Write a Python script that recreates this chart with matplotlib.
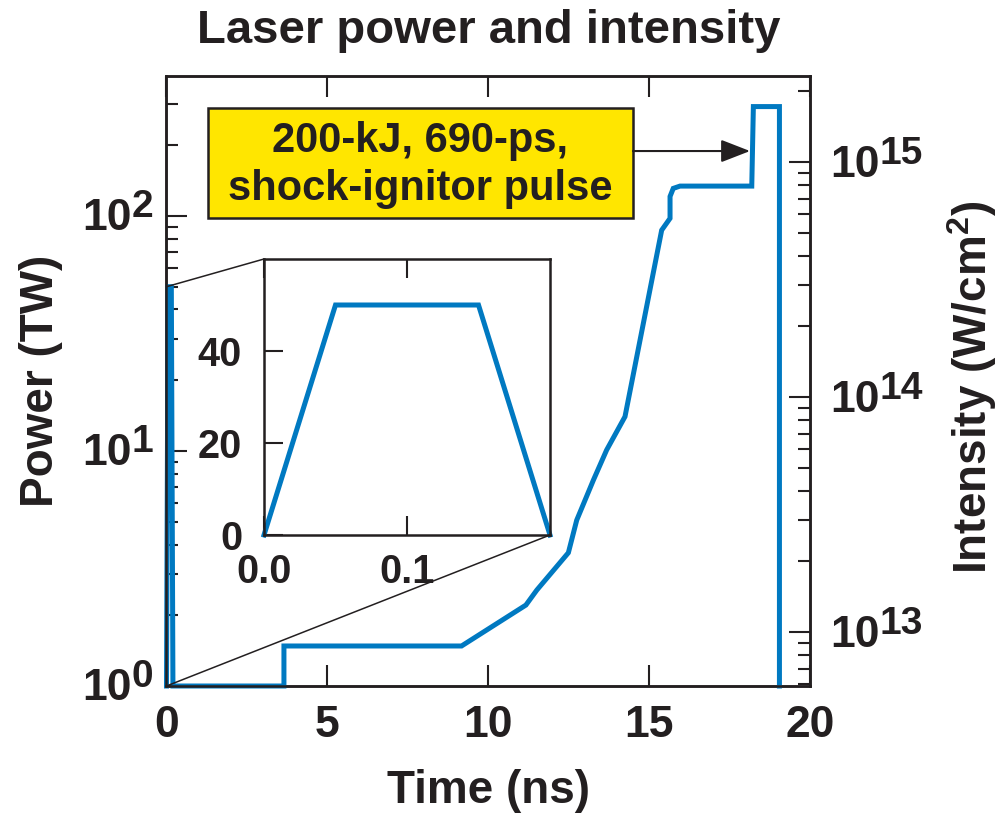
import numpy as np
import matplotlib.pyplot as plt
from matplotlib.patches import Rectangle, ConnectionPatch
from matplotlib.ticker import FixedLocator, NullFormatter, NullLocator, LogLocator

plt.rcParams['font.family'] = ['Liberation Sans', 'DejaVu Sans']
plt.rcParams['font.weight'] = 'bold'
plt.rcParams['axes.titleweight'] = 'bold'
plt.rcParams['axes.labelweight'] = 'bold'
plt.rcParams['mathtext.fontset'] = 'custom'
plt.rcParams['mathtext.rm'] = 'Liberation Sans:bold'
plt.rcParams['mathtext.default'] = 'rm'

INK = '#231f20'
BLUE = '#0079c1'
YELLOW = '#ffe600'

# pulse shape: time (ns), power (TW)
time_ns = [0.0, 0.05, 0.15, 0.2, 3.65, 3.65, 9.17, 11.17, 11.51, 12.49, 12.75,
           13.27, 13.68, 14.25, 15.39, 15.65, 15.65, 15.75, 15.96, 18.19, 18.24,
           19.05, 19.05]
power_tw = [1.0, 50, 50, 1.0, 1.0, 1.48, 1.48, 2.21, 2.56, 3.69, 5.08,
            7.53, 10.1, 14.0, 87, 97.7, 121, 131, 134, 134, 292,
            292, 1.0]

# picket (inset)
picket_ns = [0.0, 0.05, 0.15, 0.2]
picket_tw = [0, 50, 50, 0]

time_ticks = [0, 5, 10, 15, 20]
power_ticks = [1, 10, 100]
intensity_ticks = [1e13, 1e14, 1e15]
inset_xticks = [0.0, 0.1]
inset_yticks = [0, 20, 40]

w_cm2_per_tw = 5.9e12      # intensity scale of the right axis
power_lim = (1.0, 394.0)

fig = plt.figure(figsize=(10.05, 8.16), dpi=100)
ax = fig.add_axes([0.16567, 0.15931, 0.6403, 0.74755])

ax.plot(time_ns, power_tw, color=BLUE, lw=3.6, solid_joinstyle='miter',
        clip_on=False, zorder=5)
ax.set_yscale('log')
ax.set_xlim(0, 20)
ax.set_ylim(*power_lim)

ax.xaxis.set_major_locator(FixedLocator(time_ticks))
ax.xaxis.set_minor_locator(NullLocator())
ax.yaxis.set_major_locator(FixedLocator(power_ticks))
ax.yaxis.set_minor_locator(LogLocator(base=10, subs=np.arange(2, 10)))
ax.yaxis.set_major_formatter(NullFormatter())
ax.yaxis.set_minor_formatter(NullFormatter())
ax.tick_params(which='both', direction='in', top=True, right=False,
               width=1.5, color=INK, labelcolor=INK)
ax.tick_params(which='major', length=15)
ax.tick_params(which='minor', length=8.6)
ax.tick_params(axis='x', labelsize=32, pad=14)
for s in ax.spines.values():
    s.set_linewidth(1.8)
    s.set_color(INK)

ax2 = ax.twinx()
ax2.set_yscale('log')
ax2.set_ylim(power_lim[0] * w_cm2_per_tw, power_lim[1] * w_cm2_per_tw)
ax2.yaxis.set_major_locator(FixedLocator(intensity_ticks))
ax2.yaxis.set_minor_locator(LogLocator(base=10, subs=np.arange(2, 10)))
ax2.yaxis.set_major_formatter(NullFormatter())
ax2.yaxis.set_minor_formatter(NullFormatter())
ax2.tick_params(which='both', direction='in', width=1.5, color=INK)
ax2.tick_params(which='major', length=15)
ax2.tick_params(which='minor', length=8.6)
for s in ax2.spines.values():
    s.set_linewidth(1.8)
    s.set_color(INK)


def exp_label(a, val, side):
    e = str(int(round(np.log10(val))))
    tr = a.get_yaxis_transform()
    kw = dict(textcoords='offset pixels', va='baseline', color=INK,
              annotation_clip=False)
    if side == 'left':
        a.annotate('10', (0, val), xycoords=tr, xytext=(-35, -14),
                   ha='right', fontsize=32, **kw)
        a.annotate(e, (0, val), xycoords=tr, xytext=(-13, -1),
                   ha='right', fontsize=28, **kw)
    else:
        a.annotate('10', (1, val), xycoords=tr, xytext=(20, -15),
                   ha='left', fontsize=32, **kw)
        a.annotate(e, (1, val), xycoords=tr, xytext=(70, -2),
                   ha='left', fontsize=28, **kw)


for v in power_ticks:
    exp_label(ax, v, 'left')
for v in intensity_ticks:
    exp_label(ax2, v, 'right')

ax.set_title('Laser power and intensity', fontsize=34, pad=23.8, color=INK)
ax.set_xlabel('Time (ns)', fontsize=33, va='baseline', color=INK)
ax.xaxis.set_label_coords(0.5, -0.1918)
ax.set_ylabel('Power (TW)', fontsize=33, va='center', color=INK)
ax.yaxis.set_label_coords(-0.195, 0.5)
ax2.set_ylabel('Intensity (W/cm$^2$)', fontsize=33, va='center', color=INK)
ax2.yaxis.set_label_coords(1.2518, 0.49)

# callout box
ax2.add_patch(Rectangle((0.0645, 0.7664), 0.6605, 0.1811, transform=ax.transAxes,
                        facecolor=YELLOW, edgecolor=INK, lw=1.8, zorder=6))
ax2.text(0.3947, 0.8754, '200-kJ, 690-ps,', transform=ax.transAxes, ha='center',
         va='baseline', fontsize=30, color=INK, zorder=7)
ax2.text(0.3947, 0.7967, 'shock-ignitor pulse', transform=ax.transAxes,
         ha='center', va='baseline', fontsize=30, color=INK, zorder=7)
ax2.annotate('', xy=(0.9068, 0.877), xycoords=ax.transAxes,
             xytext=(0.7249, 0.877), textcoords=ax.transAxes,
             arrowprops=dict(arrowstyle='-|>,head_length=0.9,head_width=0.35',
                             mutation_scale=20, color=INK, lw=1.5,
                             shrinkA=0, shrinkB=0), zorder=7)

# inset with the picket
axin = fig.add_axes([264 / 1005, (816 - 535) / 816, 286 / 1005, 276 / 816])
axin.plot(picket_ns, picket_tw, color=BLUE, lw=3.6, solid_joinstyle='miter',
          clip_on=False)
axin.set_xlim(0, 0.2)
axin.set_ylim(0, 60)
axin.set_xticks(inset_xticks)
axin.set_xticklabels(['%.1f' % v for v in inset_xticks])
axin.set_yticks(inset_yticks)
axin.tick_params(direction='in', top=True, length=13.7, width=1.5, color=INK,
                 labelcolor=INK, labelsize=28.5)
axin.tick_params(axis='y', pad=15.8)
axin.tick_params(axis='x', pad=13)
for s in axin.spines.values():
    s.set_linewidth(1.8)
    s.set_color(INK)

for xyA, xyB in [((0, picket_tw[1]), (0, 1)), ((0, power_lim[0]), (1, 0))]:
    con = ConnectionPatch(xyA=xyA, coordsA=ax.transData, xyB=xyB,
                          coordsB=axin.transAxes, color=INK, lw=1.1)
    fig.add_artist(con)

fig.savefig('out.png', dpi=100)
